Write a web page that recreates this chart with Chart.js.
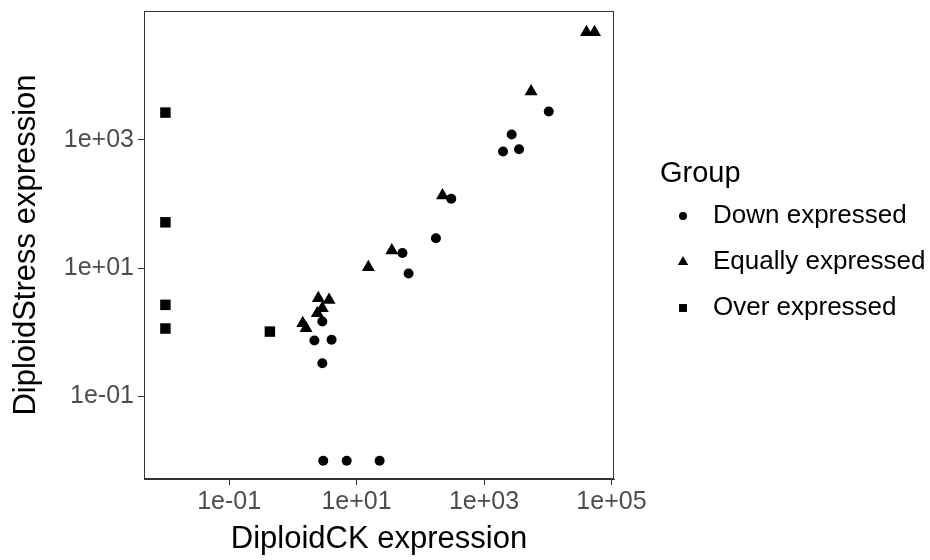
<!DOCTYPE html>
<html>
<head>
<meta charset="utf-8">
<script src="https://cdn.jsdelivr.net/npm/chart.js@4/dist/chart.umd.min.js"></script>
<style>
  html, body { margin: 0; padding: 0; background: #ffffff; }
  #wrap { width: 930px; height: 560px; position: relative; }
</style>
</head>
<body>
<div id="wrap"><canvas id="c" width="930" height="560"></canvas></div>
<script>
// ---- data ----
const groupNames = ["Down expressed", "Equally expressed", "Over expressed"];

const downX = [2.90, 2.18, 4.05, 2.90, 3.0, 7.0, 23, 52.5, 65.5, 176, 306, 1990, 2717, 3548, 10380];
const downY = [1.48, 0.75, 0.77, 0.33, 0.01, 0.01, 0.01, 17.3, 8.3, 29.4, 121, 659, 1213, 716, 2773];

const equalX = [2.51, 3.70, 2.90, 2.42, 1.43, 1.61, 15.3, 35.7, 223, 5483, 40550, 54200];
const equalY = [3.41, 3.21, 2.38, 1.99, 1.39, 1.16, 10.4, 18.9, 136, 5680, 47700, 47700];

const overX = [0.01, 0.01, 0.01, 0.01, 0.436];
const overY = [2670, 52, 2.69, 1.15, 1.03];

const xTickValues = [0.1, 10, 1000, 100000];
const yTickValues = [0.1, 10, 1000];

// ---- helpers ----
function toPoints(xs, ys) { return xs.map((x, i) => ({ x: x, y: ys[i] })); }
function sciLabel(v) {
  const e = Math.round(Math.log10(v));
  const s = e < 0 ? "-" : "+";
  const a = Math.abs(e);
  return "1e" + s + (a < 10 ? "0" + a : "" + a);
}

const FONT = "'Liberation Sans', Arial, Helvetica, sans-serif";
const markerStyles = ["circle", "triangle", "rect"];
const markerRadius = [5, 7.5, 7.4];
const legendRadius = [4, 6, 5.6];

const datasets = [
  { label: groupNames[0], data: toPoints(downX, downY), pointStyle: markerStyles[0], pointRadius: markerRadius[0] },
  { label: groupNames[1], data: toPoints(equalX, equalY), pointStyle: markerStyles[1], pointRadius: markerRadius[1] },
  { label: groupNames[2], data: toPoints(overX, overY), pointStyle: markerStyles[2], pointRadius: markerRadius[2] }
].map(d => Object.assign(d, {
  backgroundColor: "#000000", borderColor: "#000000", borderWidth: 0,
  pointHoverRadius: d.pointRadius
}));

// panel border + legend plugin
const panelAndLegend = {
  id: "panelAndLegend",
  afterDraw(chart) {
    const ctx = chart.ctx;
    const a = chart.chartArea;
    ctx.save();
    ctx.strokeStyle = "#333333";
    ctx.lineWidth = 1;
    ctx.strokeRect(Math.round(a.left) + 0.5, Math.round(a.top) + 0.5,
                   Math.round(a.right - a.left) - 1, Math.round(a.bottom - a.top) - 1);

    // legend
    ctx.fillStyle = "#000000";
    ctx.textAlign = "left";
    ctx.textBaseline = "middle";
    ctx.font = "29px " + FONT;
    ctx.fillText("Group", 660, 174);
    ctx.font = "26px " + FONT;
    const ys = [216, 262, 308];
    chart.data.datasets.forEach((ds, i) => {
      Chart.helpers.drawPoint(ctx, { pointStyle: ds.pointStyle, radius: legendRadius[i], rotation: 0, borderWidth: 0 }, 683, ys[i]);
      ctx.fillStyle = "#000000";
      ctx.fillText(ds.label, 713, ys[i]);
    });
    ctx.restore();
  }
};

const tickFont = { family: FONT, size: 25 };
const titleFont = { family: FONT, size: 31 };

new Chart(document.getElementById("c"), {
  type: "scatter",
  data: { datasets: datasets },
  options: {
    responsive: false,
    animation: false,
    events: [],
    layout: { padding: { top: 11, right: 316, left: 0, bottom: 0 } },
    plugins: { legend: { display: false }, tooltip: { enabled: false } },
    scales: {
      x: {
        type: "logarithmic",
        position: "bottom",
        min: Math.pow(10, -2.336),
        max: Math.pow(10, 5.04),
        afterBuildTicks(scale) { scale.ticks = xTickValues.map(v => ({ value: v })); },
        afterFit(scale) { scale.height = 81; scale.paddingLeft = 0; scale.paddingRight = 0; },
        ticks: { callback: (v) => sciLabel(v), color: "#4D4D4D", font: tickFont, padding: 2, maxRotation: 0, autoSkip: false },
        grid: { drawOnChartArea: false, drawTicks: true, tickLength: 6, color: "#333333", lineWidth: 1 },
        border: { display: true, color: "#333333", width: 1 },
        title: { display: true, text: "DiploidCK expression", color: "#000000", font: titleFont, padding: { top: 0, bottom: 2 } }
      },
      y: {
        type: "logarithmic",
        position: "left",
        min: Math.pow(10, -2.285),
        max: Math.pow(10, 5.01),
        afterBuildTicks(scale) { scale.ticks = yTickValues.map(v => ({ value: v })); },
        afterFit(scale) { scale.width = 144; scale.paddingTop = 0; scale.paddingBottom = 0; },
        ticks: { callback: (v) => sciLabel(v), color: "#4D4D4D", font: tickFont, padding: 4 },
        grid: { drawOnChartArea: false, drawTicks: true, tickLength: 6, color: "#333333", lineWidth: 1 },
        border: { display: true, color: "#333333", width: 1 },
        title: { display: true, text: "DiploidStress expression", color: "#000000", font: titleFont, padding: { top: 8, bottom: 0 } }
      }
    }
  },
  plugins: [panelAndLegend]
});
</script>
</body>
</html>
